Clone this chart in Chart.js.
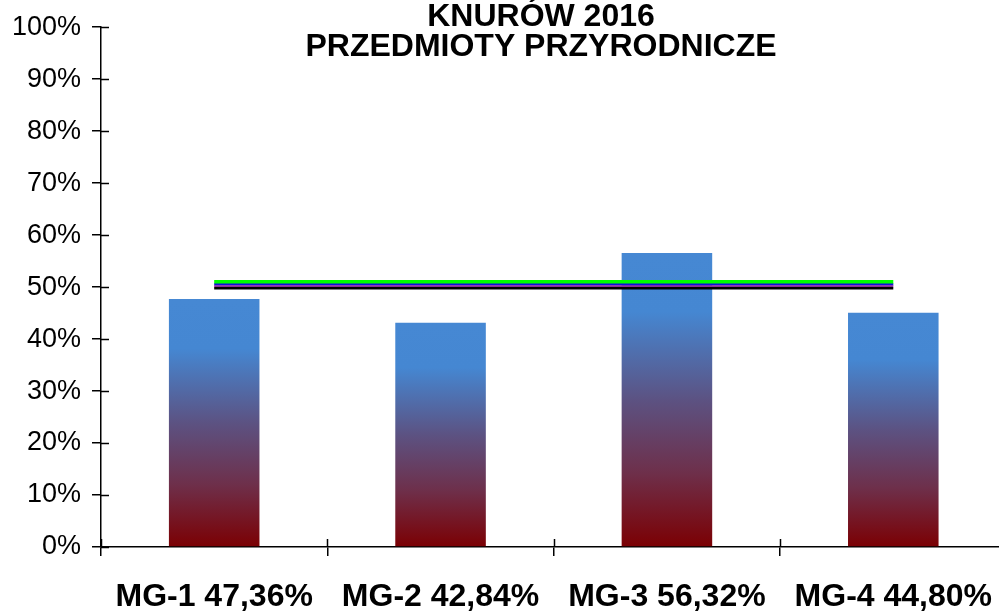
<!DOCTYPE html>
<html>
<head>
<meta charset="utf-8">
<script src="https://cdn.jsdelivr.net/npm/chart.js@4"></script>
<style>
  html, body { margin: 0; padding: 0; background: #fff; overflow: hidden; }
  #wrap { width: 1014px; height: 613px; }
</style>
</head>
<body>
<div id="wrap"><canvas id="myChart" width="1014" height="613"></canvas></div>
<script>
'use strict';
var categories = ['MG-1 47,36%', 'MG-2 42,84%', 'MG-3 56,32%', 'MG-4 44,80%'];
var wyniki = [47.7, 43.15, 56.55, 45.05];
var liniaZielona = [51.0, 51.0, 51.0, 51.0];
var liniaNiebieska = [50.5, 50.5, 50.5, 50.5];
var liniaFioletowa = [50.15, 50.15, 50.15, 50.15];
var liniaCzarna = [49.8, 49.8, 49.8, 49.8];
var yTicks = [0, 10, 20, 30, 40, 50, 60, 70, 80, 90, 100];
var titleLines = ['KNURÓW 2016', 'PRZEDMIOTY PRZYRODNICZE'];

function barGradient(context) {
  var chart = context.chart;
  if (!chart.chartArea) return '#4688d3';
  var y = chart.scales.y;
  var top = y.getPixelForValue(context.raw);
  var bottom = y.getPixelForValue(0);
  var g = chart.ctx.createLinearGradient(0, top, 0, bottom);
  g.addColorStop(0, '#4688d3');
  g.addColorStop(0.2, '#4587d2');
  g.addColorStop(0.5, '#5c5282');
  g.addColorStop(0.75, '#6e2f4a');
  g.addColorStop(1, '#7b0003');
  return g;
}

// ticks crossing the axis lines (Chart.js only draws the outer half)
var innerTicks = {
  id: 'innerTicks',
  afterDraw: function (chart) {
    var ctx = chart.ctx;
    var area = chart.chartArea;
    ctx.save();
    ctx.strokeStyle = '#000';
    ctx.lineWidth = 1.5;
    chart.scales.y.ticks.forEach(function (t, i) {
      var py = Math.round(chart.scales.y.getPixelForTick(i)) + 0.5;
      ctx.beginPath();
      ctx.moveTo(area.left, py);
      ctx.lineTo(area.left + 8, py);
      ctx.stroke();
    });
    var n = categories.length;
    var w = (area.right - area.left) / n;
    for (var i = 0; i <= n; i++) {
      var px = Math.round(area.left + i * w) + 0.5;
      ctx.beginPath();
      ctx.moveTo(px, area.bottom);
      ctx.lineTo(px, area.bottom - 8);
      ctx.stroke();
    }
    ctx.restore();
  }
};

var titlePlugin = {
  id: 'titlePlugin',
  afterDraw: function (chart) {
    var ctx = chart.ctx;
    ctx.save();
    ctx.fillStyle = '#000';
    ctx.font = 'bold 32px "Liberation Sans", Arial, sans-serif';
    ctx.textAlign = 'center';
    ctx.textBaseline = 'alphabetic';
    ctx.fillText(titleLines[0], 541, 26);
    ctx.fillText(titleLines[1], 541, 56);
    ctx.restore();
  }
};

var ctx = document.getElementById('myChart').getContext('2d');
var chart = new Chart(ctx, {
  type: 'bar',
  data: {
    labels: categories,
    datasets: [
      {
        label: 'wynik',
        data: wyniki,
        backgroundColor: barGradient,
        borderWidth: 0,
        categoryPercentage: 1.0,
        barPercentage: 0.4,
        order: 5
      },
      { type: 'line', label: 'zielona', data: liniaZielona, borderColor: '#00ff00', borderWidth: 4, pointRadius: 0, order: 4 },
      { type: 'line', label: 'niebieska', data: liniaNiebieska, borderColor: '#1010e0', borderWidth: 2, pointRadius: 0, order: 3 },
      { type: 'line', label: 'fioletowa', data: liniaFioletowa, borderColor: '#8a2d9a', borderWidth: 2, pointRadius: 0, order: 2 },
      { type: 'line', label: 'czarna', data: liniaCzarna, borderColor: '#000000', borderWidth: 2.5, pointRadius: 0, order: 1 }
    ]
  },
  options: {
    responsive: false,
    animation: false,
    layout: { padding: { top: 24, left: 0, right: 0, bottom: 0 } },
    plugins: {
      legend: { display: false },
      title: { display: false },
      tooltip: { enabled: false }
    },
    scales: {
      x: {
        grid: { display: true, drawOnChartArea: false, drawTicks: true, tickLength: 9, color: '#000', lineWidth: 1.5, offset: true },
        border: { display: true, color: '#000', width: 1.5 },
        ticks: {
          color: '#000',
          font: { family: '"Liberation Sans", Arial, sans-serif', size: 32, weight: 'bold' },
          padding: 22,
          maxRotation: 0,
          autoSkip: false
        },
        afterFit: function (scale) { scale.height = 66; }
      },
      y: {
        min: 0,
        max: 100,
        afterBuildTicks: function (scale) {
          scale.ticks = yTicks.map(function (v) { return { value: v }; });
        },
        grid: { display: true, drawOnChartArea: false, drawTicks: true, tickLength: 9, color: '#000', lineWidth: 1.5 },
        border: { display: true, color: '#000', width: 1.5 },
        ticks: {
          color: '#000',
          font: { family: '"Liberation Sans", Arial, sans-serif', size: 27 },
          padding: 11,
          callback: function (v) { return v + '%'; }
        },
        afterFit: function (scale) { scale.width = 101; }
      }
    }
  },
  plugins: [innerTicks, titlePlugin]
});
</script>
</body>
</html>
